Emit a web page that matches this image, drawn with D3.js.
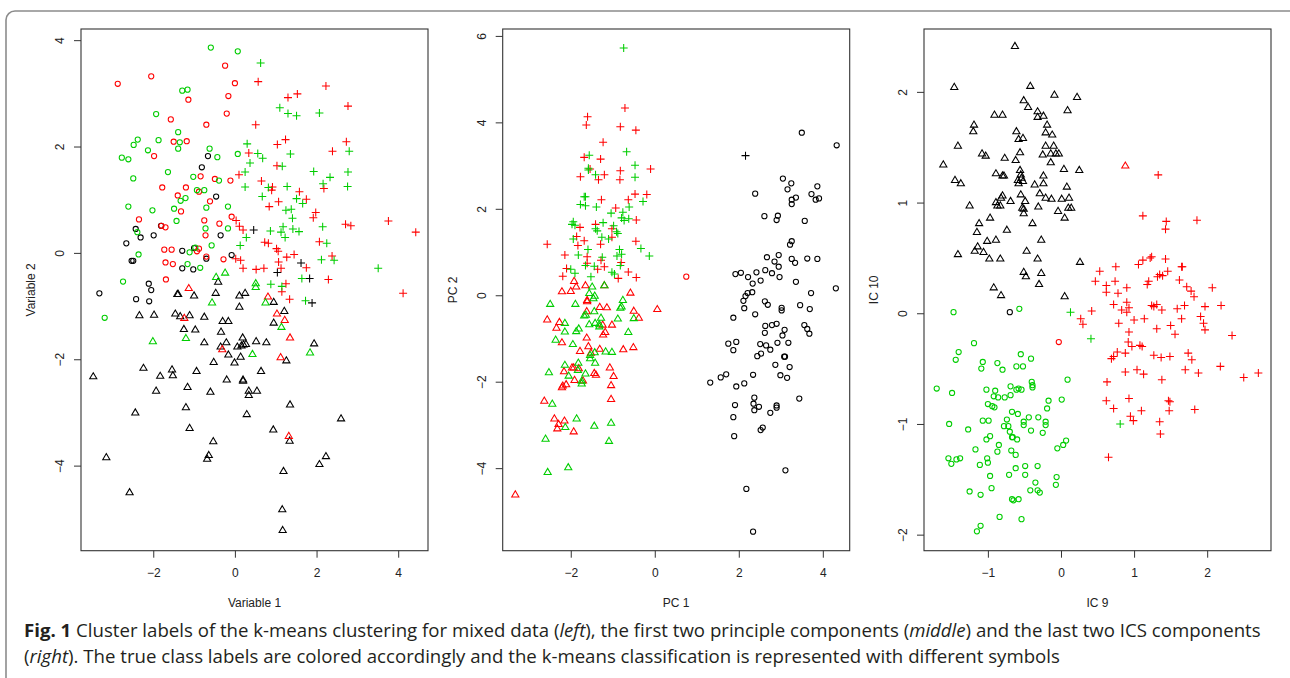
<!DOCTYPE html>
<html>
<head>
<meta charset="utf-8">
<script src="https://cdn.jsdelivr.net/npm/d3@7"></script>
<style>
  body { margin: 0; background: #fff; }
  svg { display: block; }
</style>
</head>
<body>
<div id="chart"></div>
<script>
  // ---- left panel: Variable 1 vs Variable 2 ----
  const leftGreenCircle = [[-0.59,3.86],[0.07,3.79],[-1.29,3.05],[-1.16,3.07],[-1.93,2.61],[-1.39,2.27],[-1.35,2.08],[-1.39,1.96],[-2.38,2.13],[-1.87,2.12],[-2.48,2.03],[-2.13,1.93],[-2.77,1.79],[-2.61,1.76],[-0.62,1.96],[-0.43,1.80],[0.07,1.86],[-2.49,1.40],[-1.64,1.52],[-1.02,1.43],[-0.39,1.36],[-0.93,1.18],[-0.75,1.18],[-1.33,0.98],[-1.21,1.03],[-2.61,0.87],[-2.02,0.80],[-1.49,0.83],[-0.70,0.85],[-0.17,0.87],[-1.43,0.60],[-0.72,0.46],[-0.17,0.46],[-2.39,0.39],[-2.36,-0.03],[-0.57,0.14],[-1.11,0.01],[-0.97,0.10],[-1.16,-0.21],[-0.85,-0.28],[-2.74,-0.54],[-3.19,-1.22]];
  const leftRedCircle = [[-2.87,3.18],[-2.05,3.32],[-0.24,3.52],[0.00,3.19],[-1.14,2.88],[-0.16,2.95],[-1.57,2.51],[-0.20,2.62],[-0.70,2.41],[-1.50,2.09],[-1.18,2.10],[-1.98,1.82],[-0.84,1.44],[-0.49,1.39],[-0.11,1.36],[-1.78,1.23],[-1.20,1.23],[-1.40,1.08],[-0.88,1.15],[-0.61,0.97],[-1.32,0.78],[-2.35,0.63],[-0.75,0.61],[-0.38,0.55],[-0.08,0.68],[-1.80,0.51],[-1.70,0.48],[-0.72,0.33],[-1.73,0.06],[-1.55,0.06],[-0.88,0.08],[-0.93,0.03],[-0.70,-0.07],[-0.28,-0.12],[-1.70,-0.18],[-1.52,-0.21],[-1.69,-0.50]];
  const leftBlackCircle = [[-0.66,1.82],[-0.81,1.61],[-0.46,1.06],[-1.81,0.51],[-2.43,0.45],[-2.31,0.29],[-1.99,0.33],[-2.66,0.18],[-0.35,0.33],[-2.53,-0.15],[-2.49,-0.15],[-1.29,0.04],[-1.00,0.09],[-0.70,-0.11],[-0.08,-0.04],[-1.29,-0.29],[-1.02,-0.31],[-3.32,-0.76],[-2.11,-0.58],[-2.05,-0.70],[-2.42,-0.87],[-2.10,-0.91]];
  const leftGreenPlus = [[0.63,3.57],[1.10,2.73],[1.30,2.62],[1.51,2.58],[2.07,2.63],[0.30,2.05],[0.56,1.87],[0.68,1.78],[1.36,1.86],[2.80,1.91],[0.37,1.69],[1.16,1.63],[0.25,1.52],[1.93,1.53],[2.77,1.52],[2.16,1.30],[2.33,1.42],[0.25,1.24],[0.82,1.23],[1.28,1.25],[2.76,1.25],[0.67,1.06],[1.51,1.02],[1.66,0.93],[1.25,0.80],[1.38,0.82],[1.41,0.65],[0.28,0.29],[0.87,0.41],[1.18,0.49],[1.13,0.39],[1.23,0.29],[1.42,0.45],[1.57,0.40],[2.15,0.49],[2.25,0.18],[0.13,0.14],[2.12,-0.13],[2.43,-0.14],[3.51,-0.29],[0.88,-0.59],[1.15,-0.63],[1.64,-0.48],[1.73,-0.90]];
  const leftRedPlus = [[0.57,3.22],[2.23,3.14],[1.30,2.92],[1.53,2.99],[2.77,2.76],[0.51,2.41],[1.04,2.04],[1.24,2.13],[2.73,2.09],[2.39,1.91],[0.34,1.88],[1.03,1.64],[0.10,1.47],[0.65,1.35],[0.92,1.24],[0.90,1.18],[1.58,1.15],[1.75,1.01],[2.18,1.21],[1.07,0.96],[0.84,0.87],[1.98,0.76],[1.92,0.66],[0.03,0.61],[0.11,0.50],[0.20,0.43],[2.71,0.54],[2.84,0.51],[3.76,0.60],[4.43,0.39],[0.73,0.20],[0.82,0.18],[1.02,0.08],[1.06,0.03],[2.07,0.21],[1.45,-0.03],[1.27,-0.08],[2.38,-0.06],[0.02,-0.11],[0.14,-0.14],[0.20,-0.29],[0.52,-0.31],[0.71,-0.29],[1.07,-0.17],[1.13,-0.29],[1.75,-0.28],[2.29,-0.50],[1.25,-0.58],[1.15,-0.73],[1.34,-0.87],[4.12,-0.76]];
  const leftBlackPlus = [[0.46,0.43],[1.62,-0.19],[1.04,-0.37],[1.83,-0.48],[1.89,-0.94]];
  const leftGreenTri = [[-0.46,-0.46],[-0.24,-0.38],[0.51,-0.58],[0.51,-0.65],[-0.56,-0.94],[0.75,-0.94],[1.14,-1.40],[-2.01,-1.67],[-1.20,-1.61],[1.84,-1.88],[0.43,-1.91]];
  const leftRedTri = [[-1.13,-0.67],[0.81,-0.83],[1.03,-1.15],[-1.24,-1.23],[1.22,-1.27],[1.35,-1.60],[-0.31,-1.82],[1.12,-1.97],[1.32,-3.45]];
  const leftBlackTri = [[-0.41,-0.55],[-1.41,-0.78],[-1.39,-0.78],[-1.00,-0.81],[-0.47,-0.76],[0.11,-0.81],[0.25,-0.76],[0.11,-1.02],[0.95,-0.93],[1.21,-1.10],[-2.34,-1.18],[-1.98,-1.17],[-1.46,-1.15],[-1.34,-1.20],[-1.11,-1.18],[-0.75,-1.21],[-0.30,-1.29],[-0.16,-1.29],[0.95,-1.32],[-1.25,-1.44],[-0.97,-1.45],[-0.34,-1.49],[-0.75,-1.69],[-0.21,-1.69],[-0.35,-1.77],[0.19,-1.60],[0.06,-1.77],[0.16,-1.75],[0.27,-1.72],[0.21,-1.73],[0.52,-1.67],[0.77,-1.69],[1.94,-1.71],[-0.16,-1.92],[0.14,-1.96],[1.26,-2.03],[-0.52,-2.06],[-0.01,-2.07],[-3.47,-2.33],[-2.24,-2.17],[-1.54,-2.20],[-1.52,-2.31],[-1.83,-2.32],[-0.94,-2.23],[0.64,-2.23],[-0.20,-2.39],[0.20,-2.39],[0.20,-2.41],[-1.16,-2.53],[-1.93,-2.60],[-0.60,-2.62],[0.34,-2.60],[0.34,-2.68],[0.54,-2.60],[1.35,-2.86],[-1.20,-2.91],[-2.44,-3.01],[0.29,-3.04],[2.60,-3.12],[-1.11,-3.30],[0.94,-3.33],[1.34,-3.54],[-0.53,-3.55],[-0.64,-3.81],[-0.68,-3.88],[-3.15,-3.85],[2.23,-3.83],[2.07,-3.98],[1.19,-4.11],[-2.58,-4.51],[1.16,-4.83],[1.17,-5.22]];

  // ---- middle panel: PC 1 vs PC 2 ----
  const midGreenPlus = [[-0.74,5.72],[-0.67,3.32],[-1.56,3.24],[-0.47,3.01],[-1.58,2.90],[-1.58,2.94],[-1.41,2.79],[-0.47,2.73],[-1.68,2.28],[-1.65,2.28],[-1.77,2.10],[-1.65,2.07],[-1.39,2.04],[-0.61,2.04],[-0.76,1.92],[-1.04,1.90],[-0.28,2.17],[-0.79,1.79],[-0.73,1.73],[-0.62,1.77],[-1.94,1.70],[-1.90,1.62],[-1.97,1.64],[-1.23,1.68],[-1.41,1.54],[-1.37,1.49],[-0.98,1.61],[-0.91,1.47],[-0.88,1.43],[-1.26,1.34],[-1.10,1.30],[-1.94,1.30],[-1.59,1.06],[-0.84,1.06],[-0.33,1.08],[-1.82,0.93],[-1.25,0.88],[-0.90,0.91],[-0.79,0.95],[-0.13,0.91],[-1.65,0.69],[-1.44,0.67],[-0.82,0.69],[-2.00,0.60],[-1.90,0.51],[-1.02,0.53],[-0.96,0.49],[-1.52,0.43]];
  const midRedPlus = [[-0.71,4.33],[-1.60,4.13],[-1.63,3.94],[-0.82,3.90],[-0.45,3.82],[-1.23,3.54],[-1.68,3.19],[-1.29,3.15],[-1.54,2.92],[-0.82,2.88],[-0.10,2.92],[-1.77,2.74],[-1.20,2.79],[-1.34,2.67],[-0.83,2.67],[-0.47,2.34],[-0.19,2.33],[-0.63,2.21],[-1.27,2.21],[-0.93,2.02],[-0.44,1.74],[-1.41,1.64],[-1.78,1.57],[-1.02,1.54],[-1.86,1.36],[-1.02,1.34],[-1.83,1.15],[-1.68,1.26],[-1.29,1.18],[-0.45,1.25],[-2.56,1.18],[-2.14,0.93],[-1.61,0.89],[-1.28,0.81],[-0.80,0.76],[-2.10,0.62],[-1.36,0.60],[-1.20,0.66],[-2.19,0.44],[-0.63,0.54],[-0.87,0.39],[-0.44,0.41],[-1.61,0.74]];
  const midBlackPlus = [[2.16,3.23]];
  const midRedCircle = [[0.75,0.43]];
  const midBlackCircle = [[3.50,3.76],[4.33,3.47],[2.39,2.35],[3.05,2.70],[3.25,2.59],[3.16,2.45],[3.87,2.52],[3.73,2.34],[3.91,2.24],[3.83,2.21],[3.26,2.21],[3.26,2.11],[3.36,2.26],[2.61,1.83],[2.93,1.84],[2.90,1.74],[3.57,1.72],[3.26,1.25],[3.22,1.17],[2.67,0.88],[2.95,0.93],[2.85,0.78],[2.95,0.66],[3.26,0.84],[3.34,0.75],[3.63,0.85],[3.87,0.84],[1.92,0.49],[2.05,0.52],[2.22,0.42],[2.42,0.53],[2.63,0.58],[2.79,0.51],[2.97,0.42],[2.52,0.34],[2.33,0.27],[3.36,0.31],[4.31,0.16],[3.72,0.05],[2.32,0.07],[2.21,0.05],[2.16,-0.02],[2.11,-0.13],[2.62,-0.14],[2.69,-0.22],[2.13,-0.30],[3.02,-0.29],[3.02,-0.35],[3.46,-0.23],[3.69,-0.32],[2.39,-0.44],[1.87,-0.52],[2.63,-0.71],[2.79,-0.69],[2.90,-0.66],[2.62,-0.87],[3.09,-0.80],[3.04,-0.93],[3.56,-0.69],[3.63,-0.78],[3.68,-0.89],[1.75,-1.12],[1.94,-1.08],[1.87,-1.27],[2.51,-1.13],[2.65,-1.16],[2.75,-1.26],[2.92,-1.10],[3.18,-1.10],[2.53,-1.35],[2.44,-1.41],[3.08,-1.42],[3.10,-1.42],[2.87,-1.61],[3.21,-1.66],[1.32,-2.02],[1.57,-1.90],[1.70,-1.83],[2.34,-1.84],[2.99,-1.85],[3.15,-1.91],[1.94,-2.11],[2.13,-2.04],[2.37,-2.37],[2.35,-2.51],[2.37,-2.66],[2.48,-2.58],[1.91,-2.54],[2.75,-2.72],[2.90,-2.55],[2.90,-2.60],[3.44,-2.39],[1.87,-2.82],[2.52,-3.12],[2.57,-3.06],[1.89,-3.26],[3.11,-4.05],[2.18,-4.48],[2.34,-5.47]];
  const midRedTri = [[-1.92,0.32],[-1.65,0.22],[-2.21,0.08],[-2.00,0.09],[-1.87,0.19],[-1.61,-0.12],[-1.61,-0.15],[-0.58,0.05],[-1.31,-0.28],[-1.14,-0.29],[0.06,-0.33],[-0.50,-0.37],[-1.62,-0.38],[-1.20,0.22],[-2.56,-0.57],[-2.27,-0.63],[-2.34,-0.76],[-1.02,-0.69],[-1.24,-0.69],[-0.38,-0.53],[-1.18,-0.86],[-1.23,-0.92],[-1.62,-0.99],[-2.21,-1.10],[-1.58,-1.19],[-1.31,-1.25],[-1.78,-1.30],[-0.75,-1.26],[-0.51,-1.21],[-1.52,-1.34],[-1.97,-1.68],[-1.93,-1.68],[-1.81,-1.70],[-2.16,-1.77],[-1.07,-1.68],[-1.44,-1.81],[-1.40,-1.85],[-0.98,-1.88],[-1.91,-1.97],[-1.71,-1.98],[-2.21,-2.14],[-2.19,-2.10],[-2.11,-2.07],[-1.04,-2.09],[-2.63,-2.45],[-1.04,-2.41],[-2.39,-2.86],[-2.15,-2.91],[-2.29,-2.99],[-2.32,-3.09],[-1.93,-3.16],[-3.32,-4.62]];
  const midGreenTri = [[-1.49,0.19],[-1.56,0.04],[-1.43,-0.02],[-1.46,-0.08],[-1.20,0.22],[-2.49,-0.21],[-1.89,-0.21],[-0.76,-0.12],[-0.79,-0.27],[-0.82,-0.30],[-1.44,-0.38],[-1.64,-0.46],[-1.68,-0.48],[-2.14,-0.65],[-2.14,-0.85],[-1.87,-0.84],[-1.81,-0.78],[-2.36,-1.04],[-1.56,-0.68],[-1.42,-0.65],[-1.32,-0.68],[-1.32,-0.73],[-1.28,-0.53],[-0.88,-0.55],[-0.50,-0.54],[-0.63,-0.86],[-1.95,-1.14],[-1.43,-1.33],[-1.54,-1.39],[-1.54,-1.47],[-1.42,-1.57],[-1.17,-1.31],[-1.02,-1.32],[-2.14,-1.62],[-2.52,-1.79],[-1.82,-1.57],[-1.83,-1.74],[-2.05,-1.87],[-1.65,-1.82],[-1.74,-2.05],[-1.74,-1.99],[-2.44,-2.52],[-1.86,-2.86],[-2.13,-3.06],[-1.44,-3.03],[-1.04,-2.96],[-2.60,-3.33],[-1.09,-3.38],[-2.06,-3.99],[-2.55,-4.10]];

  // ---- right panel: IC 9 vs IC 10 ----
  const rightBlackTri = [[-0.63,2.41],[-1.46,2.04],[-0.42,2.05],[-0.09,1.97],[0.22,1.95],[-0.51,1.92],[-0.45,1.86],[0.09,1.83],[-0.32,1.82],[-0.32,1.77],[-0.24,1.78],[-0.91,1.79],[-0.80,1.79],[-1.19,1.70],[-1.20,1.64],[-0.19,1.70],[-0.61,1.64],[-0.21,1.63],[-0.58,1.57],[-0.52,1.58],[-0.12,1.61],[-1.41,1.51],[-0.21,1.51],[-0.10,1.51],[-0.56,1.45],[-0.25,1.43],[-0.14,1.44],[-0.07,1.44],[-0.03,1.44],[-1.08,1.44],[-1.03,1.42],[-0.77,1.40],[-0.62,1.38],[-0.14,1.36],[-1.61,1.34],[0.04,1.30],[0.25,1.29],[-0.56,1.29],[-0.55,1.25],[-0.54,1.22],[-0.59,1.20],[-0.52,1.19],[-0.58,1.17],[-0.89,1.26],[-0.80,1.24],[-0.78,1.24],[-1.45,1.20],[-1.37,1.17],[-0.24,1.24],[-0.24,1.17],[-0.36,1.16],[0.08,1.14],[-0.55,1.07],[-0.29,1.08],[-0.80,1.06],[-0.82,1.04],[-0.69,1.01],[-0.49,1.01],[-0.21,1.04],[-0.13,1.03],[0.01,1.03],[0.11,1.04],[-0.89,1.00],[-0.87,0.97],[-0.83,0.97],[-1.25,0.97],[-0.53,0.95],[-0.51,0.94],[-0.51,0.90],[-0.31,0.96],[0.10,0.95],[0.14,0.95],[-0.04,0.92],[0.05,0.86],[-0.97,0.86],[-1.12,0.81],[-0.39,0.81],[-1.15,0.73],[-0.74,0.75],[-0.27,0.66],[-1.01,0.65],[-0.89,0.66],[-1.14,0.60],[-1.18,0.56],[-1.06,0.55],[-1.41,0.53],[-0.47,0.56],[-0.98,0.49],[-0.83,0.49],[-0.32,0.49],[0.26,0.46],[-0.51,0.37],[-0.48,0.33],[-0.27,0.36],[-0.30,0.26],[-0.92,0.23],[-0.82,0.16],[0.05,0.15]];
  const rightRedTri = [[0.88,1.33]];
  const rightBlackCircle = [[-0.70,0.01]];
  const rightGreenPlus = [[0.13,0.01],[0.41,-0.23],[0.81,-1.00]];
  const rightRedCircle = [[-0.03,-0.26]];
  const rightRedPlus = [[1.33,1.25],[1.12,0.88],[1.44,0.83],[1.43,0.76],[1.86,0.84],[1.06,0.44],[1.12,0.48],[1.22,0.50],[1.24,0.51],[1.43,0.49],[1.65,0.42],[1.66,0.42],[0.75,0.42],[0.53,0.38],[0.47,0.29],[0.74,0.29],[0.62,0.25],[0.62,0.19],[0.78,0.18],[0.90,0.23],[1.18,0.26],[1.20,0.29],[1.32,0.33],[1.35,0.35],[1.39,0.34],[1.46,0.38],[1.62,0.30],[1.72,0.24],[1.78,0.20],[1.82,0.15],[2.07,0.23],[0.72,0.08],[0.90,0.10],[0.93,0.05],[0.83,0.03],[0.90,0.01],[1.24,0.07],[1.27,0.06],[1.31,0.08],[1.38,0.03],[1.59,0.04],[1.69,0.07],[1.97,0.06],[2.19,0.07],[0.42,0.02],[0.27,-0.05],[0.30,-0.10],[0.79,-0.09],[1.00,-0.06],[1.14,-0.05],[0.93,-0.17],[0.92,-0.26],[0.97,-0.30],[1.08,-0.29],[1.11,-0.30],[1.31,-0.14],[1.50,-0.11],[1.56,-0.19],[1.65,-0.05],[1.91,-0.03],[1.95,-0.09],[1.97,-0.15],[2.34,-0.20],[0.69,-0.41],[0.72,-0.39],[0.77,-0.35],[0.88,-0.36],[1.27,-0.38],[1.37,-0.40],[1.49,-0.39],[1.74,-0.36],[1.79,-0.42],[0.63,-0.62],[0.88,-0.53],[1.04,-0.51],[1.13,-0.55],[1.38,-0.60],[1.70,-0.51],[1.88,-0.54],[2.18,-0.48],[2.50,-0.58],[2.70,-0.54],[0.62,-0.79],[0.72,-0.86],[0.93,-0.77],[1.10,-0.88],[1.47,-0.79],[1.49,-0.80],[1.48,-0.88],[1.83,-0.87],[0.95,-0.93],[0.99,-0.97],[1.35,-0.98],[1.36,-1.09],[0.65,-1.30]];
  const rightGreenCircle = [[-1.47,0.01],[-0.57,0.04],[-1.19,-0.27],[-1.40,-0.35],[-1.44,-0.42],[-1.07,-0.44],[-1.09,-0.50],[-0.87,-0.45],[-0.80,-0.51],[-0.61,-0.48],[-0.52,-0.48],[-0.55,-0.37],[-0.41,-0.41],[-1.70,-0.68],[-1.49,-0.72],[-1.02,-0.69],[-0.90,-0.70],[-0.92,-0.75],[-0.86,-0.76],[-0.77,-0.76],[-0.69,-0.66],[-0.69,-0.74],[-0.61,-0.69],[-0.58,-0.68],[-0.54,-0.69],[-0.40,-0.62],[-0.39,-0.65],[-0.39,-0.67],[0.09,-0.60],[-0.17,-0.79],[0.01,-0.78],[-1.00,-0.82],[-0.94,-0.84],[-0.91,-0.85],[-0.19,-0.86],[-0.67,-0.89],[-0.59,-0.91],[-0.31,-0.94],[-0.44,-0.94],[-1.07,-0.97],[-0.99,-0.97],[-0.74,-0.96],[-0.51,-0.98],[-0.51,-1.01],[-0.21,-0.98],[-0.21,-1.01],[-1.53,-1.00],[-0.78,-1.02],[-0.72,-1.02],[-0.70,-1.07],[-0.67,-1.12],[-0.66,-1.12],[-0.60,-1.14],[-0.41,-1.06],[-0.25,-1.08],[-1.27,-1.05],[-0.97,-1.11],[-1.02,-1.14],[-1.17,-1.23],[-0.85,-1.19],[-0.87,-1.25],[-0.68,-1.24],[-0.62,-1.28],[-0.05,-1.22],[0.03,-1.19],[0.07,-1.15],[-1.54,-1.31],[-1.50,-1.36],[-1.43,-1.32],[-1.38,-1.31],[-1.01,-1.31],[-1.00,-1.35],[-1.11,-1.37],[-0.62,-1.40],[-0.49,-1.38],[-0.49,-1.46],[-0.71,-1.46],[-0.97,-1.47],[-0.32,-1.38],[-0.06,-1.48],[-0.07,-1.55],[-0.35,-1.53],[-0.42,-1.60],[-0.32,-1.60],[-0.29,-1.62],[-1.25,-1.61],[-0.95,-1.58],[-1.10,-1.64],[-0.67,-1.68],[-0.65,-1.69],[-0.58,-1.68],[-0.84,-1.84],[-0.54,-1.86],[-1.10,-1.92],[-1.15,-1.97]];

  // axis titles and tick values
  const xTitles = ['Variable 1', 'PC 1', 'IC 9'];
  const yTitles = ['Variable 2', 'PC 2', 'IC 10'];
  const xTickValues = [[-2, 0, 2, 4], [-2, 0, 2, 4], [-1, 0, 1, 2]];
  const yTickValues = [[-4, -2, 0, 2, 4], [-4, -2, 0, 2, 4, 6], [-2, -1, 0, 1, 2]];
  const captionLine1 = ['Fig. 1', ' Cluster labels of the k-means clustering for mixed data (', 'left', '), the first two principle components (', 'middle', ') and the last two ICS components'];
  const captionLine2 = ['(', 'right', '). The true class labels are colored accordingly and the k-means classification is represented with different symbols'];

  const COLORS = { black: '#000000', red: '#ff0000', green: '#00cd00' };

  const panels = [
    {
      left: 81, xDomain: [-3.77, 4.73], yDomain: [-5.6, 4.21],
      groups: [
        [leftBlackCircle, 'circle', 'black'], [leftRedCircle, 'circle', 'red'], [leftGreenCircle, 'circle', 'green'],
        [leftBlackTri, 'tri', 'black'], [leftRedTri, 'tri', 'red'], [leftGreenTri, 'tri', 'green'],
        [leftBlackPlus, 'plus', 'black'], [leftRedPlus, 'plus', 'red'], [leftGreenPlus, 'plus', 'green']
      ]
    },
    {
      left: 502.7, xDomain: [-3.62, 4.64], yDomain: [-5.91, 6.16],
      groups: [
        [midBlackCircle, 'circle', 'black'], [midRedCircle, 'circle', 'red'],
        [midRedTri, 'tri', 'red'], [midGreenTri, 'tri', 'green'],
        [midBlackPlus, 'plus', 'black'], [midRedPlus, 'plus', 'red'], [midGreenPlus, 'plus', 'green']
      ]
    },
    {
      left: 924, xDomain: [-1.874, 2.873], yDomain: [-2.145, 2.568],
      groups: [
        [rightBlackTri, 'tri', 'black'], [rightRedTri, 'tri', 'red'],
        [rightBlackCircle, 'circle', 'black'], [rightRedCircle, 'circle', 'red'], [rightGreenCircle, 'circle', 'green'],
        [rightRedPlus, 'plus', 'red'], [rightGreenPlus, 'plus', 'green']
      ]
    }
  ];

  // Setup dimensions
  const W = 1290, H = 678;
  const plotW = 347, plotTop = 29, plotBottom = 550.7;
  const axisFont = '"Liberation Sans", Arial, Helvetica, sans-serif';
  const intFormat = d3.format('d');

  const svg = d3.select('#chart')
    .append('svg')
    .attr('width', W)
    .attr('height', H);

  // figure frame
  svg.append('rect')
    .attr('x', 6).attr('y', 11)
    .attr('width', 1300).attr('height', 700)
    .attr('rx', 9)
    .attr('fill', 'none')
    .attr('stroke', '#8c8c8c')
    .attr('stroke-width', 1.6);

  const shapes = {
    tri: 'M0,-4.1L3.6,2.05L-3.6,2.05Z',
    plus: 'M-4,0H4M0,-4V4'
  };

  panels.forEach((p, i) => {
    const x = d3.scaleLinear().domain(p.xDomain).range([p.left, p.left + plotW]);
    const y = d3.scaleLinear().domain(p.yDomain).range([plotBottom, plotTop]);
    const g = svg.append('g');

    // points
    p.groups.forEach(([pts, shape, col]) => {
      const sel = g.append('g')
        .attr('fill', 'none')
        .attr('stroke', COLORS[col])
        .attr('stroke-width', 1.05)
        .selectAll(null)
        .data(pts)
        .enter();
      if (shape === 'circle') {
        sel.append('circle')
          .attr('cx', d => x(d[0]))
          .attr('cy', d => y(d[1]))
          .attr('r', 2.6);
      } else {
        sel.append('path')
          .attr('d', shapes[shape])
          .attr('transform', d => `translate(${x(d[0])},${y(d[1])})`);
      }
    });

    // plot box
    g.append('rect')
      .attr('x', p.left).attr('y', plotTop)
      .attr('width', plotW).attr('height', plotBottom - plotTop)
      .attr('fill', 'none')
      .attr('stroke', '#333')
      .attr('stroke-width', 1.1);

    // X axis
    const xAxis = g.append('g')
      .attr('transform', `translate(0,${plotBottom})`)
      .call(d3.axisBottom(x).tickValues(xTickValues[i]).tickFormat(intFormat).tickSize(7));
    xAxis.select('.domain').remove();
    xAxis.selectAll('line').attr('stroke', '#333');
    xAxis.selectAll('text')
      .attr('y', 26.6).attr('dy', 0)
      .style('font-family', axisFont).style('font-size', '12px').attr('fill', '#222');

    // Y axis, labels rotated as in base R
    const yAxis = g.append('g')
      .attr('transform', `translate(${p.left},0)`)
      .call(d3.axisLeft(y).tickValues(yTickValues[i]).tickFormat(intFormat).tickSize(7));
    yAxis.select('.domain').remove();
    yAxis.selectAll('line').attr('stroke', '#333');
    yAxis.selectAll('text')
      .attr('x', 0).attr('y', -16.7).attr('dy', 0)
      .attr('transform', 'rotate(-90)')
      .style('text-anchor', 'middle')
      .style('font-family', axisFont).style('font-size', '12px').attr('fill', '#222');

    // axis titles
    g.append('text')
      .attr('x', p.left + plotW / 2)
      .attr('y', plotBottom + 56)
      .style('text-anchor', 'middle')
      .style('font-family', axisFont).style('font-size', '12px')
      .attr('fill', '#222')
      .text(xTitles[i]);

    g.append('text')
      .attr('transform', `translate(${p.left - 45.7},${(plotTop + plotBottom) / 2}) rotate(-90)`)
      .style('text-anchor', 'middle')
      .style('font-family', axisFont).style('font-size', '12px')
      .attr('fill', '#222')
      .text(yTitles[i]);
  });

  // Caption: bold figure number, italic panel names
  const captionFont = '"Open Sans", "Noto Sans", sans-serif';
  const addLine = (parts, yPos, boldFirst) => {
    const t = svg.append('text')
      .attr('x', 24).attr('y', yPos)
      .attr('fill', '#231f20')
      .style('font-family', captionFont)
      .style('font-size', '15px');
    parts.forEach((s, k) => {
      const ts = t.append('tspan').text(s);
      if (boldFirst && k === 0) ts.style('font-weight', 'bold');
      if (k % 2 === (boldFirst ? 0 : 1) && !(boldFirst && k === 0)) ts.style('font-style', 'italic');
    });
    return t;
  };
  const line1 = addLine(captionLine1, 637.3, true);
  const line2 = addLine(captionLine2, 663, false);

  // fit the caption to the width it has in the figure
  const target = 1238;
  const measured = line1.node().getComputedTextLength();
  const fs = 15 * target / measured;
  line1.style('font-size', fs + 'px');
  line2.style('font-size', fs + 'px');
</script>
</body>
</html>
